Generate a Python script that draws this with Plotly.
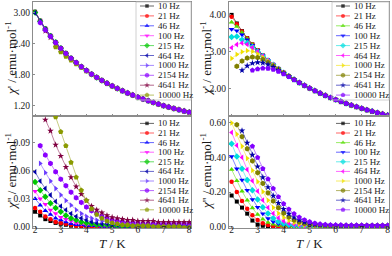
import plotly.graph_objects as go

# ---------------- data ----------------
T = [2.0, 2.2, 2.4, 2.6, 2.8, 3.0, 3.2, 3.4, 3.6, 3.8, 4.0, 4.2, 4.4, 4.6, 4.8, 5.0,
     5.2, 5.4, 5.6, 5.8, 6.0, 6.2, 6.4, 6.6, 6.8, 7.0, 7.2, 7.4, 7.6, 7.8, 8.0]

FREQS = ["10 Hz", "21 Hz", "46 Hz", "100 Hz", "215 Hz", "464 Hz", "1000 Hz", "2154 Hz", "4641 Hz", "10000 Hz"]

# top-left: chi' (compound 1)
left_re_10 = [3.012, 2.838, 2.684, 2.547, 2.422, 2.310, 2.209, 2.115, 2.029, 1.950, 1.877, 1.809, 1.746, 1.687, 1.632, 1.581, 1.532, 1.487, 1.444, 1.404, 1.365, 1.329, 1.295, 1.262, 1.231, 1.201, 1.173, 1.146, 1.121, 1.096, 1.073]
left_re_21 = [3.008, 2.836, 2.682, 2.546, 2.421, 2.309, 2.208, 2.114, 2.028, 1.949, 1.876, 1.808, 1.745, 1.686, 1.631, 1.580, 1.531, 1.486, 1.443, 1.403, 1.364, 1.328, 1.294, 1.261, 1.230, 1.200, 1.172, 1.145, 1.120, 1.095, 1.072]
left_re_46 = [3.005, 2.834, 2.681, 2.545, 2.421, 2.309, 2.208, 2.114, 2.028, 1.949, 1.876, 1.808, 1.745, 1.686, 1.631, 1.580, 1.531, 1.486, 1.443, 1.403, 1.364, 1.328, 1.294, 1.261, 1.230, 1.200, 1.172, 1.145, 1.120, 1.095, 1.072]
left_re_100 = [3.003, 2.833, 2.681, 2.545, 2.421, 2.309, 2.208, 2.114, 2.028, 1.949, 1.876, 1.808, 1.745, 1.686, 1.631, 1.580, 1.531, 1.486, 1.443, 1.403, 1.364, 1.328, 1.294, 1.261, 1.230, 1.200, 1.172, 1.145, 1.120, 1.095, 1.072]
left_re_215 = [2.998, 2.830, 2.679, 2.544, 2.421, 2.309, 2.208, 2.114, 2.028, 1.949, 1.876, 1.808, 1.745, 1.686, 1.631, 1.580, 1.531, 1.486, 1.443, 1.403, 1.364, 1.328, 1.294, 1.261, 1.230, 1.200, 1.172, 1.145, 1.120, 1.095, 1.072]
left_re_464 = [2.990, 2.825, 2.676, 2.542, 2.420, 2.309, 2.208, 2.114, 2.028, 1.949, 1.876, 1.808, 1.745, 1.686, 1.631, 1.580, 1.531, 1.486, 1.443, 1.403, 1.364, 1.328, 1.294, 1.261, 1.230, 1.200, 1.172, 1.145, 1.120, 1.095, 1.072]
left_re_1000 = [None, 2.815, 2.670, 2.538, 2.418, 2.307, 2.208, 2.114, 2.028, 1.949, 1.876, 1.808, 1.745, 1.686, 1.631, 1.580, 1.531, 1.486, 1.443, 1.403, 1.364, 1.328, 1.294, 1.261, 1.230, 1.200, 1.172, 1.145, 1.120, 1.095, 1.072]
left_re_2154 = [None, 2.800, 2.660, 2.533, 2.414, 2.305, 2.206, 2.114, 2.028, 1.949, 1.876, 1.808, 1.745, 1.686, 1.631, 1.580, 1.531, 1.486, 1.443, 1.403, 1.364, 1.328, 1.294, 1.261, 1.230, 1.200, 1.172, 1.145, 1.120, 1.095, 1.072]
left_re_4641 = [None, None, 2.640, 2.515, 2.400, 2.295, 2.200, 2.110, 2.026, 1.949, 1.876, 1.808, 1.745, 1.686, 1.631, 1.580, 1.531, 1.486, 1.443, 1.403, 1.364, 1.328, 1.294, 1.261, 1.230, 1.200, 1.172, 1.145, 1.120, 1.095, 1.072]
left_re_10000 = [None, None, None, None, 2.330, 2.235, 2.150, 2.075, 2.003, 1.935, 1.868, 1.804, 1.743, 1.686, 1.631, 1.580, 1.531, 1.486, 1.443, 1.403, 1.364, 1.328, 1.294, 1.261, 1.230, 1.200, 1.172, 1.145, 1.120, 1.095, 1.072]

# top-right: chi' (compound 2)
right_re_10 = [4.001, 3.768, 3.559, 3.370, 3.199, 3.043, 2.901, 2.770, 2.649, 2.537, 2.434, 2.338, 2.248, 2.164, 2.086, 2.012, 1.943, 1.878, 1.816, 1.758, 1.703, 1.650, 1.601, 1.554, 1.509, 1.466, 1.425, 1.386, 1.349, 1.314, 1.279]
right_re_21 = [3.951, 3.750, 3.553, 3.370, 3.199, 3.043, 2.901, 2.770, 2.649, 2.537, 2.434, 2.338, 2.248, 2.164, 2.086, 2.012, 1.943, 1.878, 1.816, 1.758, 1.703, 1.650, 1.601, 1.554, 1.509, 1.466, 1.425, 1.386, 1.349, 1.314, 1.279]
right_re_46 = [3.801, 3.683, 3.524, 3.356, 3.194, 3.043, 2.901, 2.770, 2.649, 2.537, 2.434, 2.338, 2.248, 2.164, 2.086, 2.012, 1.943, 1.878, 1.816, 1.758, 1.703, 1.650, 1.601, 1.554, 1.509, 1.466, 1.425, 1.386, 1.349, 1.314, 1.279]
right_re_100 = [3.611, 3.568, 3.459, 3.325, 3.179, 3.035, 2.898, 2.770, 2.649, 2.537, 2.434, 2.338, 2.248, 2.164, 2.086, 2.012, 1.943, 1.878, 1.816, 1.758, 1.703, 1.650, 1.601, 1.554, 1.509, 1.466, 1.425, 1.386, 1.349, 1.314, 1.279]
right_re_215 = [3.401, 3.418, 3.329, 3.240, 3.129, 3.008, 2.884, 2.762, 2.646, 2.537, 2.434, 2.338, 2.248, 2.164, 2.086, 2.012, 1.943, 1.878, 1.816, 1.758, 1.703, 1.650, 1.601, 1.554, 1.509, 1.466, 1.425, 1.386, 1.349, 1.314, 1.279]
right_re_464 = [3.111, 3.198, 3.239, 3.200, 3.114, 3.003, 2.883, 2.762, 2.646, 2.537, 2.434, 2.338, 2.248, 2.164, 2.086, 2.012, 1.943, 1.878, 1.816, 1.758, 1.703, 1.650, 1.601, 1.554, 1.509, 1.466, 1.425, 1.386, 1.349, 1.314, 1.279]
right_re_1000 = [2.821, 2.928, 2.999, 3.030, 3.009, 2.943, 2.851, 2.746, 2.638, 2.532, 2.432, 2.338, 2.248, 2.164, 2.086, 2.012, 1.943, 1.878, 1.816, 1.758, 1.703, 1.650, 1.601, 1.554, 1.509, 1.466, 1.425, 1.386, 1.349, 1.314, 1.279]
right_re_2154 = [None, 2.608, 2.749, 2.830, 2.859, 2.843, 2.791, 2.713, 2.621, 2.524, 2.428, 2.335, 2.248, 2.164, 2.086, 2.012, 1.943, 1.878, 1.816, 1.758, 1.703, 1.650, 1.601, 1.554, 1.509, 1.466, 1.425, 1.386, 1.349, 1.314, 1.279]
right_re_4641 = [None, None, 2.499, 2.620, 2.689, 2.713, 2.701, 2.655, 2.587, 2.505, 2.418, 2.330, 2.244, 2.164, 2.086, 2.012, 1.943, 1.878, 1.816, 1.758, 1.703, 1.650, 1.601, 1.554, 1.509, 1.466, 1.425, 1.386, 1.349, 1.314, 1.279]
right_re_10000 = [None, None, None, None, 2.499, 2.533, 2.551, 2.550, 2.519, 2.467, 2.398, 2.320, 2.239, 2.160, 2.084, 2.012, 1.943, 1.878, 1.816, 1.758, 1.703, 1.650, 1.601, 1.554, 1.509, 1.466, 1.425, 1.386, 1.349, 1.314, 1.279]

# bottom-left: chi'' (compound 1)
left_im_10 = [0.016, 0.012, 0.008, 0.006, 0.004, 0.003, 0.002, 0.001, 0.001, 0.000, 0.000, 0.000, 0.000, 0.000, 0.000, 0.000, 0.000, 0.000, 0.000, 0.000, 0.000, 0.000, 0.000, 0.000, 0.000, 0.000, 0.000, 0.000, 0.000, 0.000, 0.000]
left_im_21 = [0.020, 0.016, 0.011, 0.008, 0.005, 0.004, 0.003, 0.002, 0.001, 0.001, 0.000, 0.000, -0.001, -0.001, -0.001, -0.001, -0.001, -0.001, -0.001, -0.001, -0.001, -0.001, -0.001, -0.001, -0.001, -0.001, -0.001, -0.001, -0.001, -0.001, -0.001]
left_im_46 = [0.030, 0.023, 0.017, 0.013, 0.009, 0.007, 0.005, 0.003, 0.002, 0.002, 0.001, 0.001, 0.001, 0.000, 0.000, 0.000, 0.000, 0.000, 0.000, 0.000, 0.000, 0.000, 0.000, 0.000, 0.000, 0.000, 0.000, 0.000, 0.000, 0.000, 0.000]
left_im_100 = [0.038, 0.030, 0.024, 0.018, 0.014, 0.010, 0.008, 0.006, 0.004, 0.003, 0.002, 0.002, 0.001, 0.001, 0.001, 0.001, 0.000, 0.000, 0.000, 0.000, 0.000, 0.000, 0.000, 0.000, 0.000, 0.000, 0.000, 0.000, 0.000, 0.000, 0.000]
left_im_215 = [0.048, 0.039, 0.032, 0.025, 0.020, 0.016, 0.012, 0.009, 0.007, 0.005, 0.004, 0.003, 0.002, 0.002, 0.002, 0.001, 0.001, 0.001, 0.001, 0.001, 0.001, 0.001, 0.001, 0.001, 0.001, 0.001, 0.001, 0.001, 0.001, 0.001, 0.001]
left_im_464 = [0.059, 0.049, 0.041, 0.034, 0.027, 0.022, 0.018, 0.014, 0.011, 0.009, 0.007, 0.005, 0.004, 0.003, 0.003, 0.002, 0.002, 0.002, 0.002, 0.002, 0.002, 0.002, 0.002, 0.002, 0.001, 0.001, 0.001, 0.001, 0.001, 0.001, 0.001]
left_im_1000 = [None, 0.068, 0.058, 0.049, 0.041, 0.034, 0.028, 0.023, 0.018, 0.014, 0.011, 0.009, 0.007, 0.006, 0.005, 0.004, 0.003, 0.003, 0.003, 0.002, 0.002, 0.002, 0.002, 0.002, 0.002, 0.002, 0.002, 0.002, 0.002, 0.002, 0.002]
left_im_2154 = [None, 0.087, 0.077, 0.068, 0.059, 0.051, 0.044, 0.037, 0.031, 0.026, 0.021, 0.017, 0.014, 0.011, 0.009, 0.007, 0.006, 0.005, 0.004, 0.004, 0.004, 0.003, 0.003, 0.003, 0.003, 0.003, 0.003, 0.003, 0.003, 0.003, 0.003]
left_im_4641 = [None, None, 0.115, 0.103, 0.088, 0.076, 0.064, 0.053, 0.043, 0.035, 0.028, 0.022, 0.018, 0.015, 0.012, 0.010, 0.009, 0.008, 0.007, 0.007, 0.006, 0.006, 0.006, 0.006, 0.005, 0.005, 0.005, 0.005, 0.005, 0.005, 0.005]
left_im_10000 = [None, None, None, None, 0.118, 0.102, 0.087, 0.069, 0.053, 0.039, 0.028, 0.019, 0.013, 0.009, 0.006, 0.004, 0.003, 0.002, 0.002, 0.001, 0.001, 0.001, 0.001, 0.000, 0.000, 0.000, 0.000, 0.000, 0.000, -0.001, -0.001]

# bottom-right: chi'' (compound 2)
right_im_10 = [0.180, 0.145, 0.110, 0.075, 0.035, 0.012, 0.005, 0.002, 0.001, 0.000, 0.000, 0.000, 0.000, 0.000, 0.000, 0.000, 0.000, 0.000, 0.000, 0.000, 0.000, 0.000, 0.000, 0.000, 0.000, 0.000, 0.000, 0.000, 0.000, 0.000, 0.000]
right_im_21 = [0.260, 0.200, 0.148, 0.103, 0.066, 0.038, 0.019, 0.009, 0.004, 0.002, 0.001, 0.001, 0.001, 0.001, 0.000, 0.000, 0.000, 0.000, 0.000, 0.000, 0.000, 0.000, 0.000, 0.000, 0.000, 0.000, 0.000, 0.000, 0.000, 0.000, 0.000]
right_im_46 = [0.330, 0.265, 0.205, 0.152, 0.107, 0.070, 0.043, 0.024, 0.013, 0.007, 0.004, 0.002, 0.002, 0.001, 0.001, 0.001, 0.001, 0.001, 0.001, 0.001, 0.001, 0.001, 0.001, 0.001, 0.001, 0.001, 0.001, 0.001, 0.001, 0.001, 0.001]
right_im_100 = [0.405, 0.335, 0.270, 0.210, 0.157, 0.112, 0.075, 0.047, 0.028, 0.016, 0.009, 0.005, 0.003, 0.002, 0.002, 0.002, 0.002, 0.002, 0.002, 0.002, 0.002, 0.002, 0.002, 0.002, 0.002, 0.002, 0.002, 0.002, 0.002, 0.002, 0.002]
right_im_215 = [0.480, 0.405, 0.335, 0.270, 0.210, 0.157, 0.112, 0.076, 0.049, 0.030, 0.018, 0.011, 0.007, 0.005, 0.004, 0.003, 0.003, 0.003, 0.003, 0.003, 0.003, 0.003, 0.003, 0.003, 0.003, 0.003, 0.003, 0.003, 0.003, 0.003, 0.003]
right_im_464 = [0.545, 0.470, 0.400, 0.330, 0.265, 0.205, 0.153, 0.110, 0.076, 0.050, 0.032, 0.020, 0.012, 0.008, 0.005, 0.004, 0.004, 0.004, 0.004, 0.003, 0.003, 0.003, 0.003, 0.003, 0.003, 0.003, 0.003, 0.003, 0.003, 0.003, 0.003]
right_im_1000 = [0.600, 0.535, 0.465, 0.395, 0.325, 0.260, 0.202, 0.152, 0.110, 0.077, 0.053, 0.035, 0.023, 0.015, 0.010, 0.007, 0.005, 0.005, 0.004, 0.004, 0.004, 0.004, 0.004, 0.004, 0.004, 0.004, 0.004, 0.004, 0.004, 0.004, 0.004]
right_im_2154 = [None, 0.590, 0.520, 0.450, 0.380, 0.312, 0.250, 0.195, 0.148, 0.109, 0.078, 0.055, 0.038, 0.026, 0.018, 0.012, 0.009, 0.007, 0.006, 0.006, 0.005, 0.005, 0.005, 0.005, 0.005, 0.005, 0.005, 0.005, 0.005, 0.005, 0.005]
right_im_4641 = [None, None, 0.555, 0.485, 0.415, 0.348, 0.285, 0.228, 0.178, 0.136, 0.101, 0.074, 0.053, 0.037, 0.026, 0.018, 0.013, 0.010, 0.008, 0.007, 0.007, 0.006, 0.006, 0.006, 0.006, 0.006, 0.006, 0.006, 0.006, 0.006, 0.006]
right_im_10000 = [None, None, None, None, 0.465, 0.400, 0.335, 0.275, 0.220, 0.172, 0.132, 0.100, 0.074, 0.054, 0.039, 0.028, 0.020, 0.015, 0.012, 0.010, 0.009, 0.009, 0.008, 0.008, 0.008, 0.008, 0.007, 0.007, 0.007, 0.007, 0.007]

left_re = [left_re_10, left_re_21, left_re_46, left_re_100, left_re_215, left_re_464, left_re_1000, left_re_2154, left_re_4641, left_re_10000]
right_re = [right_re_10, right_re_21, right_re_46, right_re_100, right_re_215, right_re_464, right_re_1000, right_re_2154, right_re_4641, right_re_10000]
left_im = [left_im_10, left_im_21, left_im_46, left_im_100, left_im_215, left_im_464, left_im_1000, left_im_2154, left_im_4641, left_im_10000]
right_im = [right_im_10, right_im_21, right_im_46, right_im_100, right_im_215, right_im_464, right_im_1000, right_im_2154, right_im_4641, right_im_10000]

# ---------------- style ----------------
W, H = 392, 256
FONT = "Liberation Serif"
LEFT_COLORS = ["#000000", "#ff0000", "#0000ff", "#ff00ff", "#00c800", "#0000a8", "#6a3cff", "#8a00ff", "#800040", "#8a9a00"]
RIGHT_COLORS = ["#000000", "#ff0000", "#55dd00", "#0000ff", "#00dede", "#ff00ff", "#f0e000", "#808000", "#0000a8", "#8000ff"]
SYMBOLS = ["square", "circle", "triangle-up", "triangle-down", "diamond", "triangle-left",
           "triangle-right", "hexagon", "star", "pentagon"]
SIZES = [4, 4.5, 5, 5, 5, 5, 5, 5.5, 5, 5.5]


def light(hexc, a=0.55):
    h = hexc.lstrip("#")
    r, g, b = int(h[0:2], 16), int(h[2:4], 16), int(h[4:6], 16)
    return f"rgba({r},{g},{b},{a})"


# panel boxes in pixels
LX = (33, 191)
RX = (229, 389)
TOPY = (2, 116)
BOTY = (116, 228)


def dom_x(p):
    return [p[0] / W, p[1] / W]


def dom_y(p):
    return [1 - p[1] / H, 1 - p[0] / H]


fig = go.Figure()

panels = [
    ("x", "y", left_re, LEFT_COLORS, [0, 1, 2, 3, 4, 5, 6, 8, 9, 7]),
    ("x2", "y2", right_re, RIGHT_COLORS, list(range(10))),
    ("x3", "y3", left_im, LEFT_COLORS, list(range(10))),
    ("x4", "y4", right_im, RIGHT_COLORS, list(range(10))),
]

for xa, ya, series, colors, order in panels:
    for i in order:
        fig.add_trace(go.Scatter(
            x=T, y=series[i], xaxis=xa, yaxis=ya, mode="lines+markers",
            line=dict(color=light(colors[i]), width=0.9),
            marker=dict(symbol=SYMBOLS[i], size=SIZES[i], color=colors[i], line=dict(width=0)),
            showlegend=False, hoverinfo="skip", connectgaps=False,
        ))

# custom legends drawn on a full-figure pixel axis
legend_specs = [
    (140, 6.0, 9.9, LEFT_COLORS),
    (336, 6.0, 9.9, RIGHT_COLORS),
    (140, 123.4, 9.6, LEFT_COLORS),
    (336, 123.4, 9.6, RIGHT_COLORS),
]
annotations = []
for lx, ly0, dy, colors in legend_specs:
    for i, lab in enumerate(FREQS):
        yy = ly0 + i * dy
        fig.add_trace(go.Scatter(
            x=[lx, lx + 7, lx + 14], y=[yy, yy, yy], xaxis="x5", yaxis="y5",
            mode="lines+markers",
            line=dict(color=light(colors[i], 0.6), width=1),
            marker=dict(symbol=SYMBOLS[i], size=[0, SIZES[i] - 0.5, 0], color=colors[i], line=dict(width=0)),
            showlegend=False, hoverinfo="skip",
        ))
        annotations.append(dict(
            x=lx + 16, y=yy, xref="x5", yref="y5", text=lab, showarrow=False,
            xanchor="left", yanchor="middle", font=dict(family=FONT, size=9, color="#1a1a1a"),
        ))

# axis titles
TITLE_FONT = dict(family=FONT, size=13, color="#1a1a1a")
for (cx, cy, txt) in [
    (11, 59, "<i>χ</i>' / emu·mol<sup>-1</sup>"),
    (206, 59, "<i>χ</i>' / emu·mol<sup>-1</sup>"),
    (11, 172, "<i>χ</i>'' / emu·mol<sup>-1</sup>"),
    (206, 172, "<i>χ</i>'' / emu·mol<sup>-1</sup>"),
]:
    annotations.append(dict(x=cx, y=cy, xref="x5", yref="y5", text=txt, showarrow=False,
                            textangle=-90, xanchor="center", yanchor="middle", font=TITLE_FONT))
for cx in [(LX[0] + LX[1]) / 2, (RX[0] + RX[1]) / 2]:
    annotations.append(dict(x=cx, y=243, xref="x5", yref="y5", text="<i>T</i> / K", showarrow=False,
                            xanchor="center", yanchor="middle", font=TITLE_FONT))

shapes = [
    dict(type="rect", xref="x5", yref="y5", x0=136, x1=191, y0=2, y1=100,
         line=dict(color="#c4c4c4", width=0.8)),
    dict(type="rect", xref="x5", yref="y5", x0=332, x1=389, y0=2, y1=100,
         line=dict(color="#c4c4c4", width=0.8)),
]

AX = dict(showline=True, mirror=True, linecolor="#8c8c8c", linewidth=1, ticks="inside",
          ticklen=2, tickcolor="#8c8c8c", showgrid=False, zeroline=False, automargin=False,
          tickfont=dict(family=FONT, size=9.5, color="#1a1a1a"))
XR_L = [1.92, 8.07]
XR_R = [1.90, 8.05]

fig.update_layout(
    template="none",
    width=W, height=H, margin=dict(l=0, r=0, t=0, b=0, pad=0),
    paper_bgcolor="white", plot_bgcolor="rgba(0,0,0,0)", showlegend=False,
    font=dict(family=FONT),
    xaxis=dict(AX, domain=dom_x(LX), anchor="y", range=XR_L, tick0=2, dtick=1, showticklabels=False),
    yaxis=dict(AX, domain=dom_y(TOPY), anchor="x", range=[1.0, 3.2], tick0=1.2, dtick=0.6, tickformat=".2f"),
    xaxis2=dict(AX, domain=dom_x(RX), anchor="y2", range=XR_R, tick0=2, dtick=1, showticklabels=False),
    yaxis2=dict(AX, domain=dom_y(TOPY), anchor="x2", range=[1.26, 4.35], tick0=2, dtick=1, tickformat=".2f"),
    xaxis3=dict(AX, domain=dom_x(LX), anchor="y3", range=XR_L, tick0=2, dtick=1, ticklabelstandoff=-7),
    yaxis3=dict(AX, domain=dom_y(BOTY), anchor="x3", range=[-0.0015, 0.119], tick0=0, dtick=0.03, tickformat=".2f"),
    xaxis4=dict(AX, domain=dom_x(RX), anchor="y4", range=XR_R, tick0=2, dtick=1, ticklabelstandoff=-7),
    yaxis4=dict(AX, domain=dom_y(BOTY), anchor="x4", range=[-0.008, 0.64], tick0=0, dtick=0.2, tickformat=".2f"),
    xaxis5=dict(domain=[0, 1], anchor="y5", range=[0, W], visible=False, fixedrange=True, automargin=False),
    yaxis5=dict(domain=[0, 1], anchor="x5", range=[H, 0], visible=False, fixedrange=True, automargin=False),
    annotations=annotations,
    shapes=shapes,
)

fig.write_html("out.html", config={"displayModeBar": False},
               post_script="document.body.style.margin='0';document.body.style.padding='0';")
